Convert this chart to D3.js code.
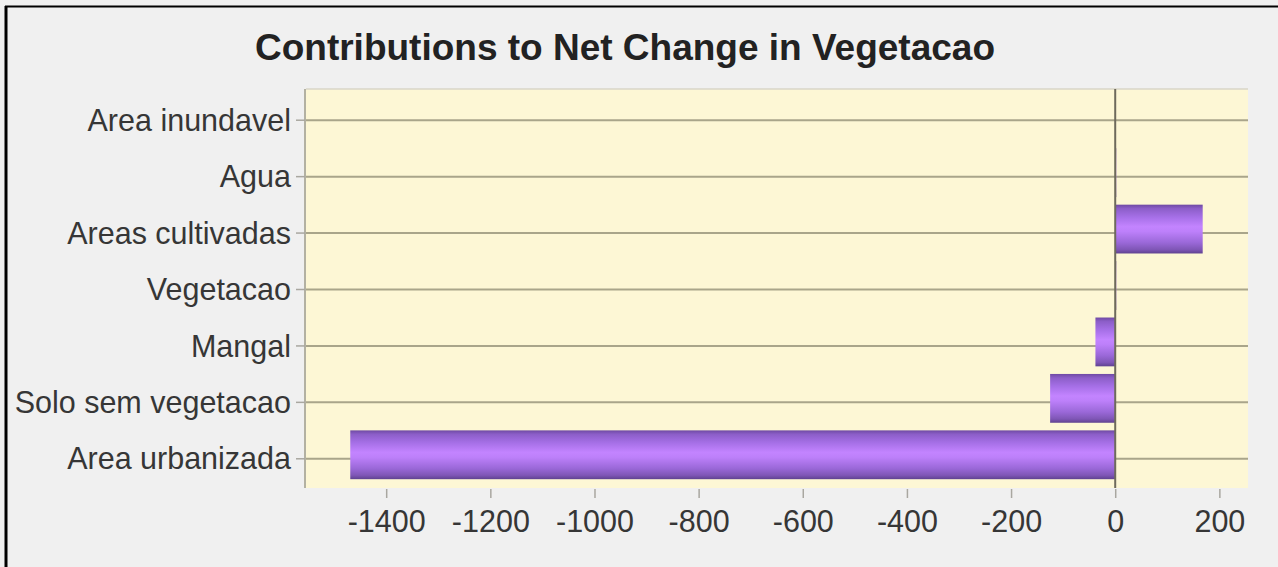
<!DOCTYPE html>
<html>
<head>
<meta charset="utf-8">
<script src="https://cdn.jsdelivr.net/npm/d3@7"></script>
<style>
  html, body { margin: 0; padding: 0; background: #f0f0f0; }
  svg { display: block; }
</style>
</head>
<body>
<svg id="chart" width="1278" height="567"></svg>
<script>
const title = "Contributions to Net Change in Vegetacao";
const categories = ["Area inundavel", "Agua", "Areas cultivadas", "Vegetacao", "Mangal", "Solo sem vegetacao", "Area urbanizada"];
const values = [0, 2, 168, 2, -38, -125, -1469];
const xTicks = [-1400, -1200, -1000, -800, -600, -400, -200, 0, 200];
const xDomain = [-1554, 255];

const W = 1278, H = 567;
const plot = { left: 306, right: 1248, top: 89, bottom: 488 };
const svg = d3.select("#chart");
const FONT = "'Liberation Sans', Arial, sans-serif";

// frame
svg.append("rect").attr("x", 0).attr("y", 0).attr("width", W).attr("height", H).attr("fill", "#f0f0f0");
svg.append("line").attr("x1", 6).attr("x2", 6).attr("y1", 6).attr("y2", H).attr("stroke", "#000").attr("stroke-width", 3);
svg.append("line").attr("x1", 5).attr("x2", W).attr("y1", 6.5).attr("y2", 6.5).attr("stroke", "#000").attr("stroke-width", 2);

const x = d3.scaleLinear().domain(xDomain).range([plot.left, plot.right]);
const y = d3.scaleBand().domain(categories).range([plot.top + 3, plot.bottom - 1]).paddingInner(0.135).paddingOuter(0.0675);

// gradient
const defs = svg.append("defs");
const grad = defs.append("linearGradient").attr("id", "barGrad").attr("x1", 0).attr("x2", 0).attr("y1", 0).attr("y2", 1);
[[0, "#6f4aa3"], [0.08, "#8c5ec8"], [0.25, "#a56fe6"], [0.45, "#c384ff"], [0.55, "#bd80fa"], [0.78, "#9a68d8"], [0.92, "#7f56b6"], [1, "#5f4290"]]
  .forEach(([o, c]) => grad.append("stop").attr("offset", o).attr("stop-color", c));

// plot background
svg.append("rect").attr("x", plot.left).attr("y", plot.top).attr("width", plot.right - plot.left).attr("height", plot.bottom - plot.top).attr("fill", "#fdf7d5");

// horizontal grid lines at category centers
svg.append("g").selectAll("line").data(categories).join("line")
  .attr("x1", plot.left).attr("x2", plot.right)
  .attr("y1", d => y(d) + y.bandwidth() / 2).attr("y2", d => y(d) + y.bandwidth() / 2)
  .attr("stroke", "#a9a58a").attr("stroke-width", 2);

// top border of plot
svg.append("line").attr("x1", plot.left).attr("x2", plot.right).attr("y1", plot.top).attr("y2", plot.top).attr("stroke", "#d8d6c8").attr("stroke-width", 1.5);

// bars
const shift = -4;
svg.append("g").selectAll("rect").data(categories).join("rect")
  .attr("x", (d, i) => Math.min(x(0), x(values[i])))
  .attr("width", (d, i) => Math.max(0.8, Math.abs(x(values[i]) - x(0))))
  .attr("y", d => y(d) + shift)
  .attr("height", y.bandwidth())
  .attr("fill", "url(#barGrad)")
  .attr("opacity", (d, i) => values[i] === 0 ? 0 : 1);

// zero line
svg.append("line").attr("x1", x(0)).attr("x2", x(0)).attr("y1", plot.top).attr("y2", plot.bottom)
  .attr("stroke", "#6e6a5c").attr("stroke-width", 2);

// left axis
const yAxis = d3.axisLeft(y).tickSize(9).tickPadding(5);
const gy = svg.append("g").attr("transform", `translate(${plot.left - 1},0)`).call(yAxis);
gy.select(".domain").attr("stroke", "#b3b1a2").attr("stroke-width", 2).attr("d", `M0,${plot.top}V${plot.bottom}`);
gy.selectAll(".tick line").attr("stroke", "#a9a7a0").attr("stroke-width", 1.5);
gy.selectAll(".tick text").attr("fill", "#363636").style("font-family", FONT).style("font-size", "30.5px").attr("dy", "0.35em");

// bottom axis
const xAxis = d3.axisBottom(x).tickValues(xTicks).tickSize(9).tickPadding(12).tickFormat(d3.format("d"));
const gx = svg.append("g").attr("transform", `translate(0,${plot.bottom + 1})`).call(xAxis);
gx.select(".domain").remove();
gx.selectAll(".tick line").attr("stroke", "#a9a7a0").attr("stroke-width", 1.5);
gx.selectAll(".tick text").attr("fill", "#363636").style("font-family", FONT).style("font-size", "30.5px").text(d => d < 0 ? "-" + Math.abs(d) : d);

// title
svg.append("text").attr("x", 625).attr("y", 60).attr("text-anchor", "middle")
  .attr("fill", "#222").style("font-family", FONT)
  .style("font-weight", "bold").style("font-size", "37px").text(title);
</script>
</body>
</html>
